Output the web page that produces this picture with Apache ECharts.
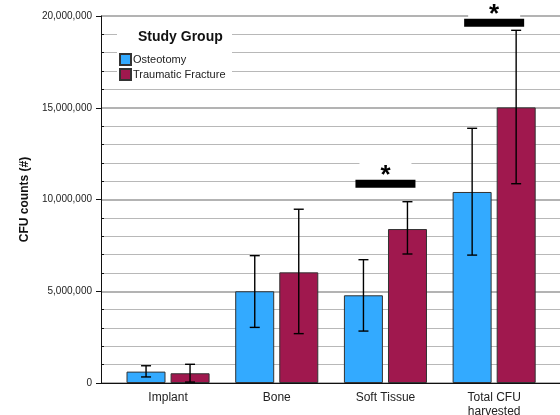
<!DOCTYPE html>
<html lang="en">
<head>
    <meta charset="UTF-8">
    <title>CFU counts by study group</title>
    <script src="https://cdn.jsdelivr.net/npm/echarts@6/dist/echarts.min.js"></script>
    <style>
        html, body { margin: 0; padding: 0; background: #fff; }
        #main { width: 560px; height: 415px; }
    </style>
</head>
<body>
<div id="main"></div>
<script>
    var categories = ['Implant', 'Bone', 'Soft Tissue', 'Total CFU\nharvested'];
    var groups = ['Osteotomy', 'Traumatic Fracture'];
    var osteotomy = [620000, 5000000, 4780000, 10410000];
    var osteotomyLow = [330000, 3030000, 2830000, 6970000];
    var osteotomyHigh = [940000, 6940000, 6720000, 13880000];
    var fracture = [530000, 6030000, 8390000, 15020000];
    var fractureLow = [50000, 2690000, 7030000, 10860000];
    var fractureHigh = [1020000, 9470000, 9880000, 19220000];
    // significance bars: category index + height
    var sigCategory = [2, 3];
    var sigLevel = [10860000, 19630000];

    var colors = ['#33aaff', '#a0184e'];
    var barOffset = 22;

    var errData = [];
    for (var i = 0; i < categories.length; i++) {
        errData.push([i, osteotomyLow[i], osteotomyHigh[i], 0]);
        errData.push([i, fractureLow[i], fractureHigh[i], 1]);
    }
    var sigData = sigCategory.map(function (c, k) { return [c, sigLevel[k]]; });

    var myChart = echarts.init(document.getElementById('main'));
    myChart.setOption({
        animation: false,
        color: colors,
        title: {
            text: 'Study Group',
            left: 133, top: 25,
            textStyle: {fontFamily: 'Liberation Sans', fontSize: 14, fontWeight: 'bold', color: '#111'}
        },
        legend: {
            data: groups,
            orient: 'vertical',
            left: 114, top: 48,
            itemWidth: 11, itemHeight: 11, itemGap: 2,
            icon: 'rect',
            textStyle: {fontFamily: 'Liberation Sans', fontSize: 11, color: '#222', padding: [0, 0, 0, -3]},
            z: 5
        },
        graphic: [{
            type: 'rect', z: 3,
            shape: {x: 117, y: 25, width: 115, height: 57},
            style: {fill: '#fff'}
        }],
        grid: [
            {left: 101, right: 0, top: 16, bottom: 32, outerBoundsMode: 'none'},
            {left: 113.7, right: 11.5, top: 16, bottom: 32, outerBoundsMode: 'none'}
        ],
        xAxis: [
            {
                type: 'value', gridIndex: 0, min: 0, max: 1,
                axisLine: {show: true, onZero: false, lineStyle: {color: '#111', width: 1}},
                axisTick: {show: false}, axisLabel: {show: false}, splitLine: {show: false}
            },
            {
                type: 'category', gridIndex: 1, data: categories,
                axisLine: {show: false}, axisTick: {show: false},
                axisLabel: {margin: 8, fontFamily: 'Liberation Sans', fontSize: 12, color: '#222', lineHeight: 14}
            }
        ],
        yAxis: [
            {
                type: 'value', gridIndex: 0, min: 0, max: 20000000, interval: 5000000,
                name: 'CFU counts (#)', nameLocation: 'middle', nameGap: 66,
                nameTextStyle: {fontFamily: 'Liberation Sans', fontSize: 12, fontWeight: 'bold', color: '#111'},
                axisLine: {show: true, lineStyle: {color: '#111', width: 1}},
                axisTick: {show: true, length: 5, lineStyle: {color: '#111'}},
                minorTick: {show: true, splitNumber: 5, length: -3, lineStyle: {color: '#111'}},
                axisLabel: {
                    fontFamily: 'Liberation Sans', fontSize: 10, color: '#222', margin: 9,
                    formatter: function (v) { return v.toLocaleString('en-US'); }
                },
                splitLine: {show: true, lineStyle: {color: '#9a9a9a', width: 1.5}},
                minorSplitLine: {show: true, lineStyle: {color: '#b8b8b8', width: 1}}
            },
            {
                type: 'value', gridIndex: 1, min: 0, max: 20000000, show: false
            }
        ],
        series: [
            {
                name: groups[0], type: 'bar', xAxisIndex: 1, yAxisIndex: 1,
                data: osteotomy, barWidth: 39, barGap: '13%',
                itemStyle: {color: colors[0], borderColor: '#333', borderWidth: 1}
            },
            {
                name: groups[1], type: 'bar', xAxisIndex: 1, yAxisIndex: 1,
                data: fracture, barWidth: 39, barGap: '13%',
                itemStyle: {color: colors[1], borderColor: '#333', borderWidth: 1}
            },
            {
                type: 'custom', xAxisIndex: 1, yAxisIndex: 1, data: errData, z: 10,
                renderItem: function (params, api) {
                    var off = api.value(3) === 0 ? -barOffset : barOffset;
                    var lo = api.coord([api.value(0), api.value(1)]);
                    var hi = api.coord([api.value(0), api.value(2)]);
                    var x = lo[0] + off;
                    var st = {stroke: '#000', lineWidth: 1.4};
                    return {
                        type: 'group', children: [
                            {type: 'line', shape: {x1: x, y1: lo[1], x2: x, y2: hi[1]}, style: st},
                            {type: 'line', shape: {x1: x - 5, y1: lo[1], x2: x + 5, y2: lo[1]}, style: st},
                            {type: 'line', shape: {x1: x - 5, y1: hi[1], x2: x + 5, y2: hi[1]}, style: st}
                        ]
                    };
                }
            },
            {
                type: 'custom', xAxisIndex: 1, yAxisIndex: 1, data: sigData, z: 11, clip: false,
                renderItem: function (params, api) {
                    var p = api.coord([api.value(0), api.value(1)]);
                    return {
                        type: 'group', children: [
                            {type: 'rect', shape: {x: p[0] - 30, y: p[1] - 4, width: 60, height: 8}, style: {fill: '#000'}},
                            {type: 'rect', shape: {x: p[0] - 26, y: p[1] - 22, width: 52, height: 17}, style: {fill: '#fff'}},
                            {
                                type: 'text', x: p[0], y: p[1] - 8,
                                style: {text: '*', fontSize: 26, fontWeight: 'bold', fontFamily: 'Liberation Sans', fill: '#000',
                                    align: 'center', verticalAlign: 'middle'}
                            }
                        ]
                    };
                }
            }
        ]
    });
</script>
</body>
</html>
